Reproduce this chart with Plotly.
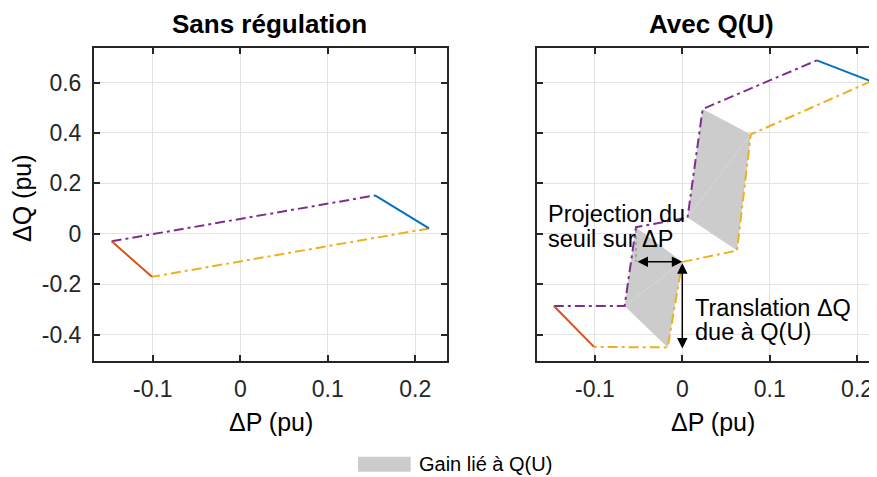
import plotly.graph_objects as go

# ---------------- data ----------------
P_tick_vals = [-0.1, 0, 0.1, 0.2]
P_tick_text = ["-0.1", "0", "0.1", "0.2"]
Q_tick_vals = [-0.4, -0.2, 0, 0.2, 0.4, 0.6]
Q_tick_text = ["-0.4", "-0.2", "0", "0.2", "0.4", "0.6"]

# Sans régulation
sans_blue_P = [0.154, 0.2157]
sans_blue_Q = [0.152, 0.021]
sans_yellow_P = [0.2157, -0.101]
sans_yellow_Q = [0.021, -0.171]
sans_red_P = [-0.101, -0.147]
sans_red_Q = [-0.171, -0.030]
sans_purple_P = [-0.147, 0.154]
sans_purple_Q = [-0.030, 0.152]

# Avec Q(U)
avec_blue_P = [0.154, 0.216]
avec_blue_Q = [0.688, 0.605]
avec_yellow_P = [0.216, 0.0784, 0.0626, 0.0, -0.0167, -0.101]
avec_yellow_Q = [0.605, 0.394, -0.067, -0.112, -0.451, -0.449]
avec_red_P = [-0.101, -0.147]
avec_red_Q = [-0.449, -0.287]
avec_purple_P = [-0.147, -0.066, -0.053, 0.006, 0.0233, 0.154]
avec_purple_Q = [-0.287, -0.287, 0.026, 0.064, 0.495, 0.688]

# Gain zones (each quadrilateral split into two triangles)
gain_lower_P = [[-0.066, -0.053, 0.0], [-0.066, 0.0, -0.0167]]
gain_lower_Q = [[-0.287, 0.026, -0.112], [-0.287, -0.112, -0.451]]
gain_upper_P = [[0.006, 0.0233, 0.0784], [0.006, 0.0784, 0.0626]]
gain_upper_Q = [[0.064, 0.495, 0.394], [0.064, 0.394, -0.067]]

# threshold projection / translation markers
proj_P = [-0.053, 0.0]
proj_Q = -0.111
trans_P = 0.0
trans_Q = [-0.111, -0.455]

# ---------------- style ----------------
BLUE = "#0072BD"
RED = "#D95319"
YELLOW = "#EDB120"
PURPLE = "#7E2F8E"
GRAY = "#CCCCCC"
AX = "#262626"
FONT = "Liberation Sans, Arial, sans-serif"
DASHDOT = "10px,4px,3px,4px"
W, H = 877, 477
OFF = 8  # page body margin offset


def px(x):
    return (x - OFF) / W


def py(y):
    return (H - (y - OFF)) / H


fig = go.Figure()


def line(P, Q, color, dash, xa, ya):
    fig.add_trace(go.Scatter(x=P, y=Q, mode="lines", xaxis=xa, yaxis=ya,
                             line=dict(color=color, width=2, dash=dash),
                             showlegend=False, hoverinfo="skip"))


# fills first (under lines)
for Ps, Qs in ((gain_lower_P, gain_lower_Q), (gain_upper_P, gain_upper_Q)):
    for p, q in zip(Ps, Qs):
        fig.add_trace(go.Scatter(x=p + [p[0]], y=q + [q[0]], mode="lines", fill="toself",
                                 fillcolor=GRAY, line=dict(width=0, color=GRAY),
                                 xaxis="x2", yaxis="y2", showlegend=False, hoverinfo="skip"))

# dotted projection guide
fig.add_trace(go.Scatter(x=[proj_P[0], proj_P[0]], y=[0.015, proj_Q], mode="lines",
                         line=dict(color="#999999", width=1.5, dash="dot"),
                         xaxis="x2", yaxis="y2", showlegend=False, hoverinfo="skip"))

line(sans_purple_P, sans_purple_Q, PURPLE, DASHDOT, "x", "y")
line(sans_yellow_P, sans_yellow_Q, YELLOW, DASHDOT, "x", "y")
line(sans_blue_P, sans_blue_Q, BLUE, "solid", "x", "y")
line(sans_red_P, sans_red_Q, RED, "solid", "x", "y")

line(avec_purple_P, avec_purple_Q, PURPLE, DASHDOT, "x2", "y2")
line(avec_yellow_P, avec_yellow_Q, YELLOW, DASHDOT, "x2", "y2")
line(avec_blue_P, avec_blue_Q, BLUE, "solid", "x2", "y2")
line(avec_red_P, avec_red_Q, RED, "solid", "x2", "y2")

xl = [px(94), px(446.7)]
xr = [px(536.7), px(877)]
yd = [py(361), py(47.5)]
YR = [-0.505, 0.739]

axcommon = dict(showline=True, linecolor=AX, linewidth=2, ticks="inside", ticklen=6,
                tickwidth=1.5, tickcolor=AX, showgrid=True, gridcolor="#E3E3E3", gridwidth=1,
                zeroline=False, tickfont=dict(family=FONT, size=23, color=AX))

fig.update_layout(
    width=W, height=H, margin=dict(l=0, r=0, t=0, b=0),
    paper_bgcolor="white", plot_bgcolor="white", showlegend=False,
    xaxis=dict(domain=xl, range=[-0.1672, 0.2359], tickvals=P_tick_vals, ticktext=P_tick_text,
               anchor="y", mirror="allticks", ticklabelstandoff=6, **axcommon),
    yaxis=dict(domain=yd, range=YR, tickvals=Q_tick_vals, ticktext=Q_tick_text,
               anchor="x", mirror="allticks", ticklabelstandoff=6, **axcommon),
    xaxis2=dict(domain=xr, range=[-0.1666, 0.2228], tickvals=P_tick_vals, ticktext=P_tick_text,
                anchor="y2", mirror="allticks", ticklabelstandoff=6, **axcommon),
    yaxis2=dict(domain=yd, range=YR, tickvals=Q_tick_vals, ticktext=Q_tick_text,
                anchor="x2", mirror=False, showticklabels=False, **axcommon),
)

ann = []


def ptext(text, x, y, size, bold=False, angle=0, xanchor="center"):
    ann.append(dict(text=f"<b>{text}</b>" if bold else text, x=px(x), y=py(y),
                    xref="paper", yref="paper", showarrow=False, xanchor=xanchor,
                    yanchor="middle", textangle=angle,
                    font=dict(family=FONT, size=size, color="black")))


ptext("Sans régulation", 269, 24, 26, bold=True)
ptext("Avec Q(U)", 711, 24, 26, bold=True)
ptext("ΔQ (pu)", 22, 198, 25, angle=-90)
ptext("ΔP (pu)", 270.5, 422, 25)
ptext("ΔP (pu)", 713, 422, 25)
ptext("Gain lié à Q(U)", 417, 464, 20, xanchor="left")


def dtext(text, P, Q):
    ann.append(dict(text=text, x=P, y=Q, xref="x2", yref="y2", showarrow=False,
                    xanchor="left", yanchor="middle",
                    font=dict(family=FONT, size=23.5, color="black")))


dtext("Projection du", -0.1560, 0.080)
dtext("seuil sur ΔP", -0.1560, -0.020)
dtext("Translation ΔQ", 0.0125, -0.293)
dtext("due à Q(U)", 0.0125, -0.391)

# double arrows
ann.append(dict(x=proj_P[1], y=proj_Q, ax=proj_P[0], ay=proj_Q, xref="x2", yref="y2",
                axref="x2", ayref="y2", text="", showarrow=True, arrowside="end+start",
                arrowhead=2, arrowsize=1.4, arrowwidth=1.5, arrowcolor="black"))
ann.append(dict(x=trans_P, y=trans_Q[1], ax=trans_P, ay=trans_Q[0], xref="x2", yref="y2",
                axref="x2", ayref="y2", text="", showarrow=True, arrowside="end+start",
                arrowhead=2, arrowsize=1.4, arrowwidth=1.5, arrowcolor="black"))

fig.update_layout(annotations=ann)

# legend swatch
fig.add_shape(type="rect", xref="paper", yref="paper", x0=px(358), x1=px(410.7),
              y0=py(471.7), y1=py(456.7), fillcolor=GRAY, line=dict(width=0))

fig.write_html("out.html")
